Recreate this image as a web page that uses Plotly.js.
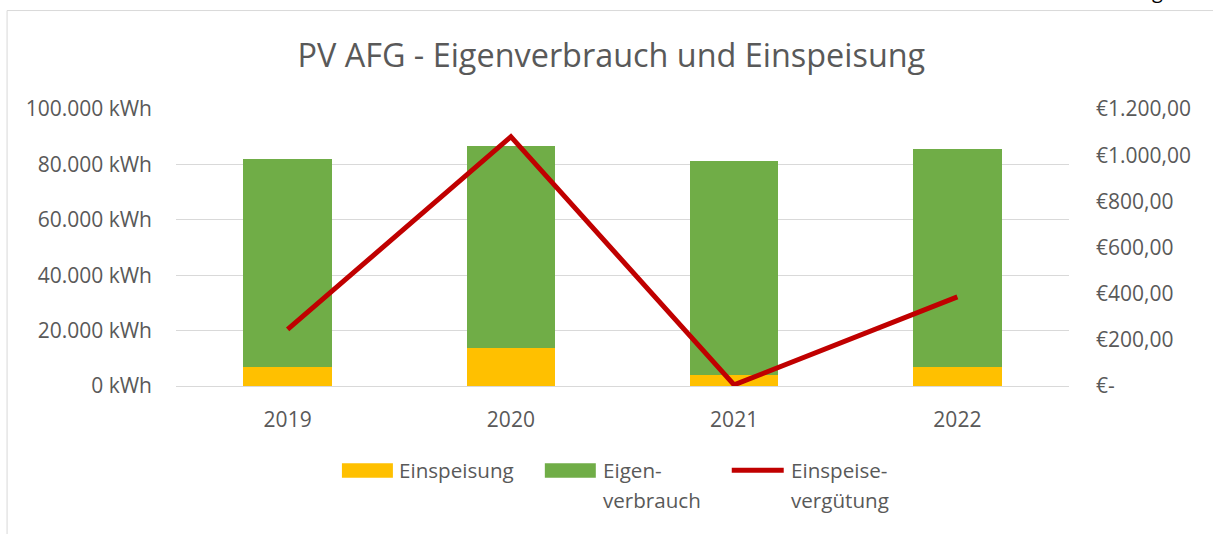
<!DOCTYPE html>
<html>
<head>
<meta charset="utf-8">
<script src="https://cdn.plot.ly/plotly-3.0.1.min.js"></script>
<style>
html,body{margin:0;padding:0;background:#fff;}
#chart{width:1213px;height:534px;}
</style>
</head>
<body>
<div id="chart"></div>
<script>
// ---- data ----
const years = ['2019', '2020', '2021', '2022'];
const einspeisungKWh = [6900, 13700, 3800, 6800];
const eigenverbrauchKWh = [75200, 72900, 77400, 78600];
const verguetungEUR = [245, 1080, 5, 386];
const leftTickVals = [0, 20000, 40000, 60000, 80000, 100000];
const leftTickText = ['0 kWh', '20.000 kWh', '40.000 kWh', '60.000 kWh', '80.000 kWh', '100.000 kWh'];
const rightTickVals = [0, 200, 400, 600, 800, 1000, 1200];
const rightTickText = ['€-', '€200,00', '€400,00', '€600,00', '€800,00', '€1.000,00', '€1.200,00'];
const seriesNames = ['Einspeisung', 'Eigenverbrauch', 'Einspeisevergütung'];
const legendLines = [['Einspeisung'], ['Eigen-', 'verbrauch'], ['Einspeise-', 'vergütung']];
const titleText = 'PV AFG - Eigenverbrauch und Einspeisung';

// ---- layout geometry (pixels) ----
const W = 1213, H = 534;
const L = 176, R = 1069.4, T = 108.5, B = 386.5;
const pw = R - L, ph = B - T;
const px = x => (x - L) / pw;
const py = y => (B - y) / ph;

const txtColor = '#595959';
const fontFam = 'Open Sans, sans-serif';
const colYellow = '#FFC000', colGreen = '#70AD47', colRed = '#C00000';

const traces = [
  {type: 'bar', name: seriesNames[0], x: years, y: einspeisungKWh,
   marker: {color: colYellow, line: {width: 0}}, showlegend: false},
  {type: 'bar', name: seriesNames[1], x: years, y: eigenverbrauchKWh,
   marker: {color: colGreen, line: {width: 0}}, showlegend: false},
  {type: 'scatter', mode: 'lines', name: seriesNames[2], x: years, y: verguetungEUR,
   yaxis: 'y2', line: {color: colRed, width: 5}, cliponaxis: false, showlegend: false}
];

// chart frame + custom legend
const shapes = [
  {type: 'rect', xref: 'paper', yref: 'paper', x0: px(7), x1: px(W + 50), y0: py(H + 50), y1: py(9.7),
   line: {color: '#D9D9D9', width: 1}, fillcolor: 'rgba(0,0,0,0)', layer: 'below'},
  {type: 'rect', xref: 'paper', yref: 'paper', x0: px(342), x1: px(393), y0: py(478.5), y1: py(464),
   line: {width: 0}, fillcolor: colYellow},
  {type: 'rect', xref: 'paper', yref: 'paper', x0: px(545), x1: px(596), y0: py(478.5), y1: py(464),
   line: {width: 0}, fillcolor: colGreen},
  {type: 'line', xref: 'paper', yref: 'paper', x0: px(732), x1: px(784), y0: py(471), y1: py(471),
   line: {color: colRed, width: 5}}
];

const legFont = {family: fontFam, size: 20.6, color: txtColor};
const annotations = [
  {xref: 'paper', yref: 'paper', x: px(397), y: py(470.6), xanchor: 'left', yanchor: 'middle',
   text: legendLines[0][0], showarrow: false, font: legFont},
  {xref: 'paper', yref: 'paper', x: px(601), y: py(470.6), xanchor: 'left', yanchor: 'middle',
   text: legendLines[1][0], showarrow: false, font: legFont},
  {xref: 'paper', yref: 'paper', x: px(601), y: py(500.5), xanchor: 'left', yanchor: 'middle',
   text: legendLines[1][1], showarrow: false, font: legFont},
  {xref: 'paper', yref: 'paper', x: px(789), y: py(470.6), xanchor: 'left', yanchor: 'middle',
   text: legendLines[2][0], showarrow: false, font: legFont},
  {xref: 'paper', yref: 'paper', x: px(789), y: py(500.5), xanchor: 'left', yanchor: 'middle',
   text: legendLines[2][1], showarrow: false, font: legFont},
  {xref: 'paper', yref: 'paper', x: px(1157.5), y: py(-10), xanchor: 'center', yanchor: 'middle',
   text: 'g', showarrow: false, font: {family: fontFam, size: 20, color: '#000000'}}
];

const tickFont = {family: fontFam, size: 21, color: txtColor};

const layout = {
  width: W, height: H,
  margin: {l: L, r: W - R, t: T, b: H - B, pad: 0},
  paper_bgcolor: '#ffffff', plot_bgcolor: '#ffffff',
  separators: ',.',
  barmode: 'stack', bargap: 0.603,
  showlegend: false,
  title: {text: titleText, font: {family: fontFam, size: 32.4, color: txtColor},
          x: 0.504, xref: 'container', xanchor: 'center', y: 1 - 56 / H, yref: 'container', yanchor: 'middle'},
  xaxis: {type: 'category', showgrid: false, showline: false, zeroline: false, ticks: '',
          tickfont: tickFont, ticklabelstandoff: 19},
  yaxis: {range: [0, 100000], tickvals: leftTickVals, ticktext: leftTickText,
          showgrid: true, gridcolor: '#D9D9D9', gridwidth: 1,
          zeroline: true, zerolinecolor: '#D9D9D9', zerolinewidth: 1,
          showline: false, ticks: '', tickfont: tickFont, ticklabelstandoff: 23, fixedrange: true},
  yaxis2: {range: [0, 1200], overlaying: 'y', side: 'right', tickvals: rightTickVals, ticktext: rightTickText,
           showgrid: false, zeroline: false, showline: false, ticks: '', tickfont: tickFont,
           ticklabelstandoff: 26, fixedrange: true},
  shapes: shapes,
  annotations: annotations
};

Plotly.newPlot('chart', traces, layout, {displayModeBar: false, staticPlot: true});
</script>
</body>
</html>
